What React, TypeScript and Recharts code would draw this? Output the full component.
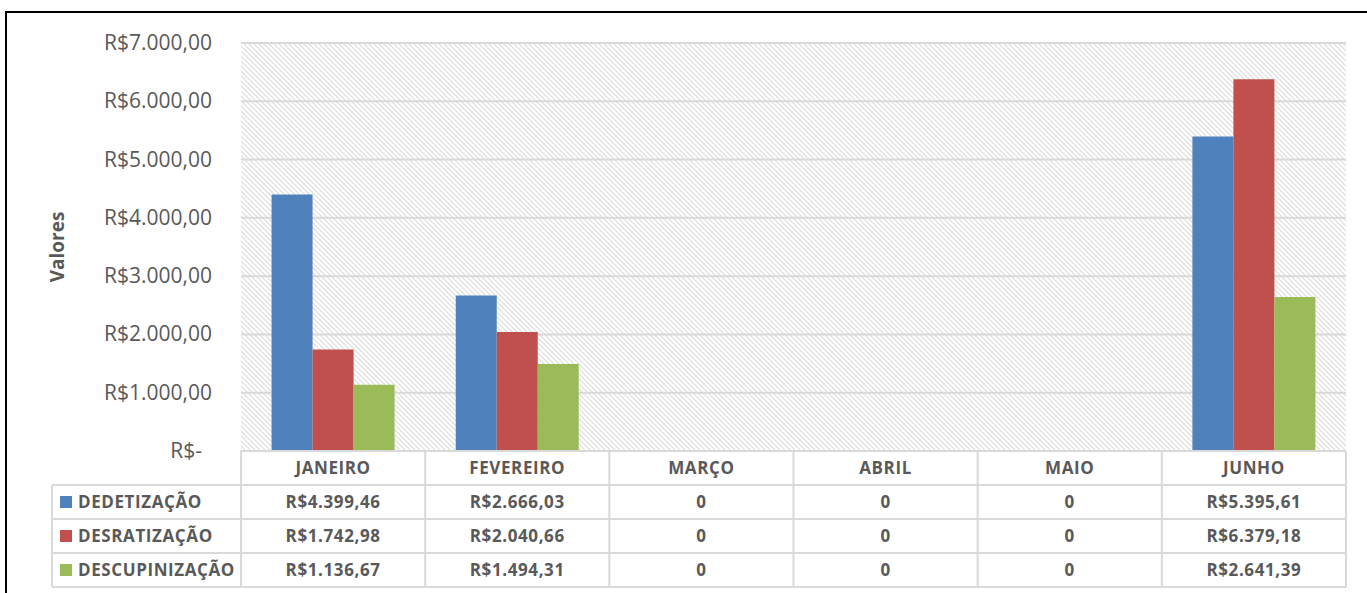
import React from 'react';
import { BarChart, Bar, XAxis, YAxis, CartesianGrid } from 'recharts';

const months = ['JANEIRO', 'FEVEREIRO', 'MARÇO', 'ABRIL', 'MAIO', 'JUNHO'];
const dedetizacao = [4399.46, 2666.03, 0, 0, 0, 5395.61];
const desratizacao = [1742.98, 2040.66, 0, 0, 0, 6379.18];
const descupinizacao = [1136.67, 1494.31, 0, 0, 0, 2641.39];
const yTicks = [0, 1000, 2000, 3000, 4000, 5000, 6000, 7000];

const seriesList = [
  { key: 'dedetizacao', name: 'DEDETIZAÇÃO', color: '#4F81BD', values: dedetizacao },
  { key: 'desratizacao', name: 'DESRATIZAÇÃO', color: '#C0504D', values: desratizacao },
  { key: 'descupinizacao', name: 'DESCUPINIZAÇÃO', color: '#9BBB59', values: descupinizacao },
];

const data = months.map((m, i) => ({
  month: m,
  dedetizacao: dedetizacao[i],
  desratizacao: desratizacao[i],
  descupinizacao: descupinizacao[i],
}));

const W = 1367;
const H = 593;
const PLOT_RIGHT = 1346;
const PLOT_LEFT = 241;
const PLOT_TOP = 43;
const PLOT_BOTTOM = 451;
const BAND = (PLOT_RIGHT - PLOT_LEFT) / months.length;
const ROW_H = 34;
const LEGEND_LEFT = 52;
const LINE = '#d9d9d9';
const TEXT = '#595959';
const FONT = "'Open Sans', sans-serif";

// 1234.5 -> "R$1.234,50"
const brl = (v: number) => {
  const [int, dec] = v.toFixed(2).split('.');
  return 'R$' + int.replace(/\B(?=(\d{3})+(?!\d))/g, '.') + ',' + dec;
};
const cellText = (v: number) => (v === 0 ? '0' : brl(v));

const YTick = (props: any) => {
  const { x, y, payload } = props;
  const v = payload.value as number;
  return (
    <text x={v === 0 ? x - 10 : x} y={y} dy={7} textAnchor="end" fill={TEXT}
      fontFamily={FONT} fontSize={21}>
      {v === 0 ? 'R$-' : brl(v)}
    </text>
  );
};

const cellStyle = {
  fontFamily: FONT,
  fontSize: 17,
  fontWeight: 700,
  letterSpacing: 0.6,
  fill: TEXT,
};

const TableColumn = (props: any) => {
  const { x, index, payload } = props;
  const left = x - BAND / 2;
  const right = x + BAND / 2;
  const bottom = PLOT_BOTTOM + ROW_H * 4;
  const rowY = (r: number) => PLOT_BOTTOM + ROW_H * r + ROW_H / 2 + 6;
  return (
    <g>
      {[0, 1, 2, 3, 4].map((r) => (
        <line key={'h' + r} x1={left} x2={right} y1={PLOT_BOTTOM + ROW_H * r}
          y2={PLOT_BOTTOM + ROW_H * r} stroke={LINE} strokeWidth={2} />
      ))}
      <line x1={right} x2={right} y1={PLOT_BOTTOM} y2={bottom} stroke={LINE} strokeWidth={2} />
      {index === 0 && (
        <g>
          <line x1={left} x2={left} y1={PLOT_BOTTOM} y2={bottom} stroke={LINE} strokeWidth={2} />
          <line x1={LEGEND_LEFT} x2={LEGEND_LEFT} y1={PLOT_BOTTOM + ROW_H} y2={bottom}
            stroke={LINE} strokeWidth={2} />
          {[1, 2, 3, 4].map((r) => (
            <line key={'lh' + r} x1={LEGEND_LEFT} x2={left} y1={PLOT_BOTTOM + ROW_H * r}
              y2={PLOT_BOTTOM + ROW_H * r} stroke={LINE} strokeWidth={2} />
          ))}
          {seriesList.map((s, i) => (
            <g key={s.key}>
              <rect x={60} y={PLOT_BOTTOM + ROW_H * (i + 1) + ROW_H / 2 - 6} width={12} height={12}
                fill={s.color} />
              <text x={78} y={rowY(i + 1)} style={cellStyle}>{s.name}</text>
            </g>
          ))}
        </g>
      )}
      <text x={x} y={rowY(0)} textAnchor="middle" style={cellStyle}>{payload.value}</text>
      {seriesList.map((s, i) => (
        <text key={s.key} x={x} y={rowY(i + 1)} textAnchor="middle" style={cellStyle}>
          {cellText(s.values[index])}
        </text>
      ))}
    </g>
  );
};

export default function App() {
  return (
    <div style={{ position: 'fixed', left: 0, top: 0, width: W, height: H, overflow: 'hidden', background: '#fff' }}>
      <div style={{ position: 'absolute', left: 5, top: 11, width: 3000, height: 3000, border: '2px solid #000' }} />
      <div style={{ position: 'absolute', left: 0, top: 0 }}>
        <BarChart width={W} height={H} data={data}
          margin={{ top: PLOT_TOP, right: W - PLOT_RIGHT, bottom: 0, left: 6 }}
          barCategoryGap="16.6%" barGap={0}>
          <defs>
            <pattern id="hatch" width="5" height="5" patternUnits="userSpaceOnUse">
              <path d="M-1,-1 L6,6 M-1,4 L1,6 M4,-1 L6,1" stroke="#dcdcdc" strokeWidth={1.2} />
            </pattern>
          </defs>
          <CartesianGrid vertical={false} stroke={LINE} strokeWidth={2} fill="url(#hatch)" />
          <XAxis dataKey="month" height={H - PLOT_BOTTOM} axisLine={false} tickLine={false}
            interval={0} tick={<TableColumn />} />
          <YAxis width={PLOT_LEFT - 6} domain={[0, 7000]} ticks={yTicks} axisLine={false} tickLine={false}
            tickMargin={23} tick={<YTick />}
            label={{ value: 'Valores', angle: -90, position: 'insideLeft', offset: 51,
              style: { fontFamily: FONT, fontSize: 19, fontWeight: 700, fill: TEXT, textAnchor: 'middle' } }} />
          {seriesList.map((s) => (
            <Bar key={s.key} dataKey={s.key} name={s.name} fill={s.color} isAnimationActive={false} />
          ))}
        </BarChart>
      </div>
    </div>
  );
}
